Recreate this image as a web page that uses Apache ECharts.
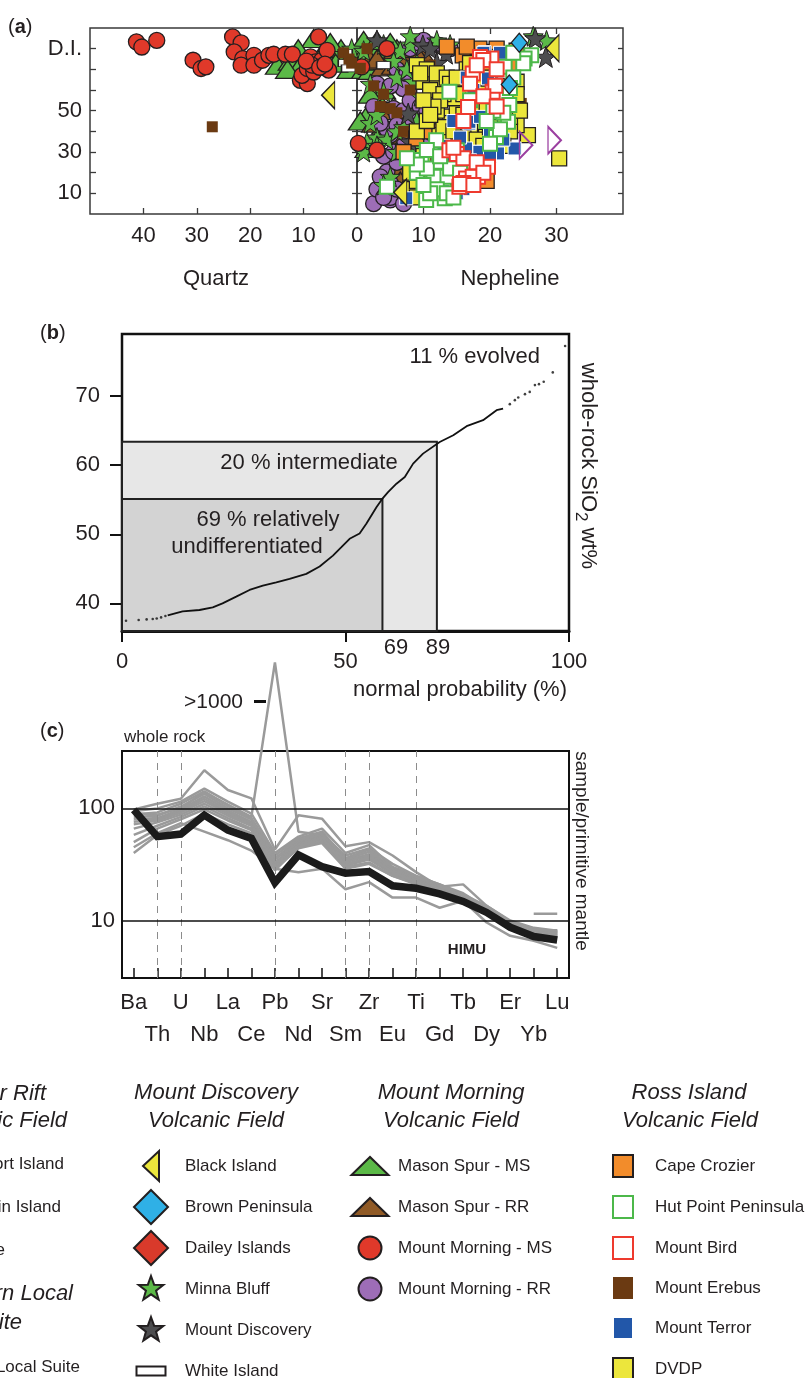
<!DOCTYPE html>
<html><head><meta charset="utf-8">
<script src="https://cdn.jsdelivr.net/npm/echarts@6/dist/echarts.min.js"></script>
<style>html,body{margin:0;padding:0;background:#fff}#c{width:809px;height:1378px}</style>
</head><body><div id="c"></div>
<script>
// ---------------- Panel (a): [normative nepheline (+) / quartz (−), D.I.] ----------------
const blackIsland = [[-5.4,57.5],[29.4,80.2],[6.5,10.5]];
const brownPeninsula = [[24.4,82.9],[22.9,62.7]];
const daileyIslands = [];
const minnaBluff = [[-1,80],[1,79],[4,82],[6.5,79],[8,82],[2,63],[4,59],[6,66],[8.5,64],[9.5,57],[10.5,68],[1.5,35],[3,37],[4.5,36],[6,40],[3,33],[7,42],[9,45],[11,70],[28.5,84],[26.5,86],[5,18],[4,14],[5.5,74],[7.5,70],[9,73],[11.5,60],[12.5,44],[10,40],[8.5,32],[2,44],[3,48],[1,30],[6,30],[8,86],[12,84],[14,82]];
const mountDiscovery = [[28.4,76],[7.7,48.6],[9.9,81.6],[13.4,77.6],[11,80],[8,35],[26.8,85],[3,84],[12,73]];
const whiteIsland = [[-2.2,78],[-2.2,73],[-1.6,70.5],[4,72],[10,60]];
const masonSpurMS = [[-14.9,72],[-12.5,74],[-10.5,72.5],[-8.1,84.9],[-6,80],[-4.5,77],[-2.5,74],[-1.5,70],[-0.7,77.8],[-3,80],[-13,70],[0.5,78],[1.5,80],[2.5,78.5],[3.5,80.5],[1,70],[2,69.5],[3,56],[1.5,47.8],[3.4,46.4],[1.5,31.7],[3,31.7],[2.5,33],[4.5,77],[6,80],[0.8,74],[4,60],[2,58],[5.5,52],[0.5,45],[4,43],[6,33],[1,84],[3,84],[5,83],[-5,83],[-4,73],[-11,80]];
const masonSpurRR = [[10,76.8],[3.9,71.2],[2,74.4],[5,75.5],[7,76],[6.9,38.2],[6.4,26.9],[7.9,23.7],[7,25],[7.4,9.2],[6,21],[3,75],[4.5,50],[6,63],[8.5,80],[2.5,44],[9,26],[8.5,18],[6.5,16],[5.5,72]];
const mountMorningMS = [[-41.3,83.3],[-40.3,80.8],[-37.5,84],[-30.7,74.4],[-29.2,70.4],[-28.3,71.2],[-23.3,85.7],[-21.7,82.8],[-23,78.4],[-21.4,75.2],[-21.7,72],[-19.3,76.8],[-19.3,72],[-17.7,74.4],[-16.5,76.8],[-15.6,77.3],[-13.4,77.3],[-12.1,77.3],[-10.6,64.7],[-9.3,63.1],[-10.3,67.1],[-9.3,70.4],[-8.7,76],[-7.8,73.6],[-7.2,85.7],[-6.6,74.4],[-5.6,79.2],[-5.3,69.6],[-8.1,68.7],[-8.4,72],[-9.5,74],[-7,71],[-6,72.5],[0.7,71.2],[4.5,80],[0.2,34.2],[3,30.9]];
const mountMorningRR = [[4.5,20.4],[5,6.8],[5.5,51],[5,38.2],[6.9,60.7],[12.4,81.6],[10.4,37.3],[4,10],[5,15],[6,48],[7,50],[8,45],[4.5,41],[6,43],[11,82],[13,81],[14,80],[3,63],[5,62],[8.5,58],[9,39],[6,25],[5,8],[7,5],[9,48],[10,46],[2.5,5],[3,12],[3.5,18],[4,28],[5.5,30],[7,33],[8,55],[9.5,52],[10.5,50],[11.5,42],[12,36],[8,80],[9,83],[10,84],[6,70],[7.5,68],[3.5,44],[2.5,52],[4,8],[6,12]];
const capeCrozier = [[17.9,79.2],[19.4,78.4],[22.9,76.8],[15.9,76.8],[18.4,80],[16.5,81],[21,80],[8.9,36.6],[8.5,17.2],[18.7,16.4],[14,35],[20,70],[23,72],[13.5,81],[24,79],[11,40],[7,30],[8,22],[10,14],[17,20],[19.5,16]];
const hutPoint = [[26.2,76.8],[25.2,75.2],[22.2,71.2],[22.4,57.5],[22.9,52.7],[22.7,44.6],[20.9,37.3],[13.9,59.2],[11.9,35.7],[9.7,26.1],[4.5,13.2],[10.4,6.8],[13.2,7.6],[13.4,18],[11.5,18],[12.4,25.3],[15,30.9],[10.5,31],[9,20],[10.5,22],[12,12],[11,10],[22,49],[21.5,41],[20,34],[25,73],[23.5,66],[23,61],[20.5,50],[19.5,45],[14,22],[12.5,28],[9,24],[10,14],[13.5,10],[14.5,8],[15.5,20],[17,55],[23.5,78],[7.5,27]];
const mountBird = [[20.2,75.2],[20.4,59.1],[19.7,22.9],[18.2,18],[17.4,68],[16.7,51.8],[13.9,30.9],[16.4,17.2],[17.4,18],[15.4,13.2],[18.5,76],[19,74.5],[15,29],[16,15],[17,63],[15.5,14.5],[18,72],[21,70],[20.8,62],[19,57],[21,52],[16,27],[18,25],[19,20],[17.5,14],[14.5,32],[16,45]];
const mountErebus = [[-27.1,42.2],[24.7,53.5],[-2.5,78],[-1.5,75],[0.5,70.5],[2.5,62],[4,58],[5,51],[3.5,52],[7,40],[11,72],[1.5,80],[-1,73],[6,49],[8,60],[20,77]];
const mountTerror = [[19.7,65.6],[16.9,43.8],[17.9,30.1],[21.2,29.3],[23.7,31.7],[16.9,44.6],[19.2,78.3],[16.4,31.7],[18.4,30.1],[7.4,7.6],[20,28],[17,26],[14,25],[16,12],[19,78],[14.5,45],[22,74],[15,10],[17.5,60],[18.5,47],[20,40],[22,36],[15.5,37],[13,33],[12,20],[13,11],[16.5,66],[21.5,78]];
const dvdp = [[30.4,26.9],[25.7,38.2],[10,64],[13.4,47.1],[15,51],[12.4,38.2],[14,44],[18.4,44.6],[19.4,39.8],[19.2,44.6],[20.5,47],[24,43],[22.4,51],[20,54.3],[18.4,58.3],[12,62],[11,60],[14.5,56],[16,48],[17,40],[21,36],[23,40],[9,40],[10.5,45],[12,50],[13,58],[16.5,70],[19,66],[21,62],[24,64],[8,12],[9,8],[22,33],[21.5,57],[9,72],[10.5,70],[12,68],[13.5,66],[14,63],[15.5,61],[16,58],[17.5,55],[18,52],[19.5,50],[21,48],[12.5,55],[11.5,52],[13,42],[14.5,40],[16,37],[18,36],[20,42],[23,47],[24.5,50],[10,55],[11,48],[15,66],[17,73],[20,76],[9.5,68],[22.5,60],[24,58],[14,30],[16,28],[19,33],[11,15],[13,14],[9,16],[8,20],[10,28]];
const franklinIsland = [[25.4,33.3],[29.7,35.7]];

const aYLabelValues = [10,30,50,80];

// ---------------- Panel (b): cumulative SiO2 vs normal probability ----------------
const bLowerDots = [[0.161,37.49],[0.275,37.59],[0.380,37.68],[0.483,37.74],[0.564,37.82],[0.666,37.97],[0.782,38.17]];
const bCurve = [[0.851,38.26],[1.44,38.84],[2.5,39.04],[3.74,39.42],[4.94,40.0],[7.12,40.97],[9.88,41.94],[13.36,42.57],[17.64,43.05],[22.64,43.54],[29.94,44.27],[36.42,45.33],[43.3,46.92],[47.8,48.13],[52.2,49.35],[57.5,50.12],[61.0,51.52],[66.1,53.93],[68.8,55.09],[71.6,56.11],[75.3,57.33],[78.7,58.29],[81.8,60.23],[85.1,61.68],[89.7,63.37],[92.6,64.34],[94.8,65.65],[96.76,66.52],[97.87,67.97],[98.28,68.21]];
const bUpperDots = [[98.63,68.84],[98.85,69.42],[98.98,69.81],[99.20,70.29],[99.33,70.62],[99.45,71.60],[99.53,71.74],[99.61,72.08],[99.73,73.44],[99.84,77.26]];
const bCutPercent = [69, 89];
const bCutSiO2 = [55.1, 63.4];

// ---------------- Panel (c): primitive-mantle normalised ----------------
const elements = ['Ba','Th','U','Nb','La','Ce','Pb','Nd','Sr','Sm','Zr','Eu','Ti','Gd','Tb','Dy','Er','Yb','Lu'];
const dashedElements = ['Th','U','Pb','Sm','Zr','Ti'];
const himu = [97,56,59,87,64,54,21.8,38.4,30.2,26.4,27.3,20.4,19.4,17.3,14.8,11.8,8.7,7.2,6.7];
const wr1 = [98,110,122,219,146,123,43,87,81,46,50,38,27,20,21,13.5,10,8.6,8.1];
const wr2 = [90,88,100,140,108,84,2000,62,58,38,44,32,25,21,17.5,13,9.7,8.3,7.8];
const wr3 = [95,100,115,150,115,90,40,56,66,40,47,30,25,21,17,13.5,9.8,8.5,8.0];
const wr4 = [88,92,110,142,105,82,38,54,62,36,43,29,24,20,16.5,13,9.6,8.3,7.9];
const wr5 = [84,86,104,135,100,80,36,52,60,35,41,28,24,20,16.5,12.8,9.5,8.2,7.7];
const wr6 = [80,82,98,128,96,76,35,50,58,34,39,28,23,19.5,16,12.5,9.3,8.0,7.6];
const wr7 = [76,80,95,122,92,74,33,49,56,33,38,27,23,19,16,12.3,9.2,7.9,7.5];
const wr8 = [72,78,92,116,90,72,32,48,55,32,36,27,22,19,15.5,12.2,9.0,7.8,7.4];
const wr9 = [66,75,88,110,86,70,31,47,53,31,35,26,22,18.5,15.5,12,8.9,7.7,7.3];
const wr10 = [58,70,84,104,82,66,30,45,51,30,33,25,21.5,18,15,11.8,8.8,7.6,7.2];
const wr11 = [50,66,80,98,78,64,29,44,49,29,32,25,21,18,15,11.5,8.6,7.5,7.1];
const wr12 = [45,60,74,62,52,42,29,27,29,19,22,16,16,13,15,9.6,7.3,6.6,5.7];
const wr13 = [40,58,70,90,72,60,28,45,55,31,37,27,22,18,16,12,9.5,8.2,8.2];
const wr14 = [null,null,null,null,null,null,null,null,null,null,null,null,null,null,null,null,null,11.5,11.5];
const wholeRock = [wr1,wr2,wr3,wr4,wr5,wr6,wr7,wr8,wr9,wr10,wr11,wr12,wr13,wr14];

// ---------------- helpers ----------------
const FONT = '"Liberation Sans", Arial, Helvetica, sans-serif';
const INK = '#231f20';
function probit(p){
  const a=[-3.969683028665376e+01,2.209460984245205e+02,-2.759285104469687e+02,1.383577518672690e+02,-3.066479806614716e+01,2.506628277459239e+00];
  const b=[-5.447609879822406e+01,1.615858368580409e+02,-1.556989798598866e+02,6.680131188771972e+01,-1.328068155288572e+01];
  const c=[-7.784894002430293e-03,-3.223964580411365e-01,-2.400758277161838e+00,-2.549732539343734e+00,4.374664141464968e+00,2.938163982698783e+00];
  const d=[7.784695709041462e-03,3.224671290700398e-01,2.445134137142996e+00,3.754408661907416e+00];
  const pl=0.02425; let q,r;
  if(p<pl){q=Math.sqrt(-2*Math.log(p));return (((((c[0]*q+c[1])*q+c[2])*q+c[3])*q+c[4])*q+c[5])/((((d[0]*q+d[1])*q+d[2])*q+d[3])*q+1);}
  if(p<=1-pl){q=p-0.5;r=q*q;return (((((a[0]*r+a[1])*r+a[2])*r+a[3])*r+a[4])*r+a[5])*q/(((((b[0]*r+b[1])*r+b[2])*r+b[3])*r+b[4])*r+1);}
  q=Math.sqrt(-2*Math.log(1-p));return -(((((c[0]*q+c[1])*q+c[2])*q+c[3])*q+c[4])*q+c[5])/((((d[0]*q+d[1])*q+d[2])*q+d[3])*q+1);
}
function normCdf(z){
  const t=1/(1+0.2316419*Math.abs(z));
  const y=0.3989423*Math.exp(-z*z/2)*t*(0.3193815+t*(-0.3565638+t*(1.781478+t*(-1.821256+t*1.330274))));
  return z>0?1-y:y;
}
const toProb = arr => arr.map(([p,s]) => [probit(p/100), s]);

// ---------------- symbols ----------------
const STAR = 'path://M19,5L22.12,13.71L31.36,13.98L24.04,19.64L26.64,28.52L19,23.3L11.36,28.52L13.96,19.64L6.64,13.98L15.88,13.71Z';
const LEFT_TRI = 'path://M0,10L10,0L10,20Z';
const RIGHT_TRI = 'path://M0,0L10,10L0,20Z';
const BOX = 'M0,0M38,36';
const ICON = {
  leftTri: 'path://'+BOX+'M11,18L27,3L27,33Z',
  diamond: 'path://'+BOX+'M19,1L36,18L19,35L2,18Z',
  star: 'path://'+BOX+'M19,5L22.12,13.71L31.36,13.98L24.04,19.64L26.64,28.52L19,23.3L11.36,28.52L13.96,19.64L6.64,13.98L15.88,13.71Z',
  flatRect: 'path://'+BOX+'M4.5,13.5H33.5V22.5H4.5Z',
  tri: 'path://'+BOX+'M0.5,27L19,9L37.5,27Z',
  circle: 'path://'+BOX+'M7.5,18A11.5,11.5 0 1 0 30.5,18A11.5,11.5 0 1 0 7.5,18Z',
  square: 'path://'+BOX+'M9,7H29V29H9Z'
};

const groups = [
  {name:'Mason Spur - MS', pts:masonSpurMS, symbol:'triangle', size:[24,18], color:'#5bb947', border:INK, bw:1.3, icon:ICON.tri},
  {name:'Mason Spur - RR', pts:masonSpurRR, symbol:'triangle', size:[24,18], color:'#905a26', border:INK, bw:1.3, icon:ICON.tri},
  {name:'Mount Morning - RR', pts:mountMorningRR, symbol:'circle', size:16, color:'#9d6db6', border:INK, bw:1.3, icon:ICON.circle},
  {name:'Minna Bluff', pts:minnaBluff, symbol:STAR, size:20, color:'#5bb947', border:INK, bw:1, icon:ICON.star},
  {name:'Mount Discovery', pts:mountDiscovery, symbol:STAR, size:21, color:'#4d4d4f', border:INK, bw:1, icon:ICON.star},
  {name:'Mount Morning - MS', pts:mountMorningMS, symbol:'circle', size:16, color:'#e0392a', border:INK, bw:1.3, icon:ICON.circle},
  {name:'White Island', pts:whiteIsland, symbol:'rect', size:[14,7], color:'#ffffff', border:INK, bw:1.2, icon:ICON.flatRect},
  {name:'Mount Erebus', pts:mountErebus, symbol:'rect', size:11, color:'#6b3a12', border:'#6b3a12', bw:0, icon:ICON.square},
  {name:'Cape Crozier', pts:capeCrozier, symbol:'rect', size:15, color:'#f28c2b', border:INK, bw:1.3, icon:ICON.square},
  {name:'DVDP', pts:dvdp, symbol:'rect', size:15, color:'#ece63c', border:INK, bw:1.3, icon:ICON.square},
  {name:'Mount Terror', pts:mountTerror, symbol:'rect', size:13, color:'#2257a9', border:'#ffffff', bw:1, icon:ICON.square},
  {name:'Hut Point Peninsula', pts:hutPoint, symbol:'rect', size:14, color:'#ffffff', border:'#4cb84a', bw:2, icon:ICON.square},
  {name:'Mount Bird', pts:mountBird, symbol:'rect', size:14, color:'#ffffff', border:'#ee3a2e', bw:2, icon:ICON.square},
  {name:'Black Island', pts:blackIsland, symbol:LEFT_TRI, size:[13,27], color:'#ece63c', border:INK, bw:1.3, icon:ICON.leftTri},
  {name:'Brown Peninsula', pts:brownPeninsula, symbol:'diamond', size:[16,19], color:'#2fb0e6', border:INK, bw:1.3, icon:ICON.diamond},
  {name:'Dailey Islands', pts:daileyIslands, symbol:'diamond', size:[16,19], color:'#d93a2b', border:INK, bw:1.3, icon:ICON.diamond},
  {name:'Franklin Island', pts:franklinIsland, symbol:RIGHT_TRI, size:[13,27], color:'rgba(255,255,255,0)', border:'#9b3fa0', bw:1.8, icon:null}
];

const series = [];
groups.forEach(g => {
  const q = g.pts.filter(p => p[0] < 0).map(p => [-p[0], p[1]]);
  const n = g.pts.filter(p => p[0] >= 0);
  const base = {type:'scatter', name:g.name, symbol:g.symbol, symbolSize:g.size, symbolKeepAspect:false,
    itemStyle:{color:g.color, borderColor:g.border, borderWidth:g.bw, opacity:1}, emphasis:{disabled:true}, silent:true};
  series.push(Object.assign({}, base, {xAxisIndex:0, yAxisIndex:0, data:q}));
  series.push(Object.assign({}, base, {xAxisIndex:1, yAxisIndex:1, data:n}));
});
const iconOf = {}; groups.forEach(g => iconOf[g.name] = g.icon);

// panel b
const z69 = probit(bCutPercent[0]/100), z89 = probit(bCutPercent[1]/100);
const bXMin = -3, bXMax = 3, bYMin = 36, bYMax = 79;
series.push({type:'line', name:'SiO2 curve', xAxisIndex:4, yAxisIndex:4, data:toProb(bCurve), showSymbol:false, symbol:'none',
  lineStyle:{color:'#111', width:1.8}, silent:true, z:5,
  markArea:{silent:true, data:[
    [{coord:[bXMin,bYMin], itemStyle:{color:'#e7e7e7', borderColor:'#222', borderWidth:2}}, {coord:[z89,bCutSiO2[1]]}],
    [{coord:[bXMin,bYMin], itemStyle:{color:'#d3d3d3', borderColor:'#222', borderWidth:2}}, {coord:[z69,bCutSiO2[0]]}]
  ]}});
series.push({type:'scatter', name:'SiO2 dots', xAxisIndex:4, yAxisIndex:4, data:toProb(bLowerDots.concat(bUpperDots)), symbolSize:2.6,
  itemStyle:{color:'#111'}, silent:true, z:5});

// panel c
wholeRock.forEach((arr, i) => {
  const s = {type:'line', name:'whole rock '+(i+1), xAxisIndex:5, yAxisIndex:5, data:arr, symbol:'none', showSymbol:false,
    lineStyle:{color:'#9a9a9a', width:2.5}, clip:false, silent:true, connectNulls:false, z:3};
  if (i === 0) {
    s.markLine = {silent:true, symbol:'none', label:{show:false}, animation:false, data:
      dashedElements.map(e => ({xAxis:e, lineStyle:{color:'#8c8c8c', width:1, type:[7,6]}}))
      .concat([10,100].map(v => ({yAxis:v, lineStyle:{color:'#111', width:1.6, type:'solid'}})))};
  }
  series.push(s);
});
series.push({type:'line', name:'HIMU', xAxisIndex:5, yAxisIndex:5, data:himu, symbol:'none', showSymbol:false,
  lineStyle:{color:'#1b1b1b', width:7.5, join:'miter'}, silent:true, z:6});

const axisFont = {fontFamily:FONT, fontSize:22, color:INK};
const hidden = {show:false};
const noLine = {show:false, onZero:false};
const option = {
  animation:false,
  backgroundColor:'#fff',
  textStyle:{fontFamily:FONT},
  grid:[
    {left:90, top:28, width:267, height:186, show:true, borderColor:'#3a3a3a', borderWidth:1.5, backgroundColor:'transparent'},
    {left:357, top:28, width:266, height:186, show:true, borderColor:'#3a3a3a', borderWidth:1.5, backgroundColor:'transparent'},
    {left:122, top:334, width:447, height:297, show:true, borderColor:'#111', borderWidth:2.5, backgroundColor:'transparent'},
    {left:122, top:751, width:447, height:227, show:true, borderColor:'#111', borderWidth:2, backgroundColor:'transparent'}
  ],
  xAxis:[
    {gridIndex:0, type:'value', min:0, max:50, inverse:true, position:'bottom', axisLine:noLine, splitLine:hidden,
      axisTick:{inside:true, length:6, customValues:[10,20,30,40], lineStyle:{color:'#3a3a3a', width:1.3}},
      axisLabel:Object.assign({customValues:[10,20,30,40], margin:11}, axisFont)},
    {gridIndex:1, type:'value', min:0, max:40, position:'bottom', axisLine:noLine, splitLine:hidden,
      axisTick:{inside:true, length:6, customValues:[10,20,30], lineStyle:{color:'#3a3a3a', width:1.3}},
      axisLabel:Object.assign({customValues:[0,10,20,30], margin:11}, axisFont)},
    {gridIndex:1, type:'value', min:0, max:40, position:'top', axisLine:noLine, splitLine:hidden, axisLabel:hidden,
      axisTick:{inside:true, length:6, customValues:[10,20,30], lineStyle:{color:'#3a3a3a', width:1.3}}},
    {gridIndex:0, type:'value', min:0, max:50, inverse:true, position:'top', axisLine:noLine, splitLine:hidden, axisLabel:hidden, axisTick:hidden},
    {gridIndex:2, type:'value', min:bXMin, max:bXMax, position:'bottom', splitLine:hidden,
      axisLine:{show:true, onZero:false, lineStyle:{color:'#111', width:3}},
      axisTick:{show:true, inside:false, length:11, customValues:[-3,0,3], lineStyle:{color:'#111', width:2}},
      axisLabel:Object.assign({customValues:[-3,0,3], margin:20, formatter:v => String(Math.round(normCdf(v)*100))}, axisFont)},
    {gridIndex:3, type:'category', data:elements, boundaryGap:true, splitLine:hidden,
      axisLine:{show:true, onZero:false, lineStyle:{color:'#111', width:2}},
      axisTick:{show:true, inside:true, length:10, alignWithLabel:true, interval:0, lineStyle:{color:'#111', width:1.5}},
      axisLabel:Object.assign({interval:0, margin:9, lineHeight:32, formatter:(v,i) => (i % 2 ? '\n' + v : v)}, axisFont)}
  ],
  yAxis:[
    {gridIndex:0, type:'value', min:0, max:90, position:'left', axisLine:noLine, splitLine:hidden,
      axisTick:{inside:true, length:6, customValues:[10,20,30,40,50,60,70,80], lineStyle:{color:'#3a3a3a', width:1.3}},
      axisLabel:Object.assign({customValues:aYLabelValues, margin:8, formatter:v => (v === 80 ? 'D.I.' : String(v))}, axisFont)},
    {gridIndex:1, type:'value', min:0, max:90, position:'left', axisLine:noLine, splitLine:hidden, axisLabel:hidden,
      axisTick:{inside:true, length:5, customValues:[10,20,30,40,50,60,70,80], lineStyle:{color:'#3a3a3a', width:1.3}}},
    {gridIndex:0, type:'value', min:0, max:90, position:'right', axisLine:noLine, splitLine:hidden, axisLabel:hidden,
      axisTick:{inside:true, length:5, customValues:[10,20,30,40,50,60,70,80], lineStyle:{color:'#3a3a3a', width:1.3}}},
    {gridIndex:1, type:'value', min:0, max:90, position:'right', axisLine:noLine, splitLine:hidden, axisLabel:hidden,
      axisTick:{inside:true, length:5, customValues:[10,20,30,40,50,60,70,80], lineStyle:{color:'#3a3a3a', width:1.3}}},
    {gridIndex:2, type:'value', min:bYMin, max:bYMax, position:'left', axisLine:noLine, splitLine:hidden,
      axisTick:{show:true, inside:false, length:12, customValues:[40,50,60,70], lineStyle:{color:'#111', width:2}},
      axisLabel:Object.assign({customValues:[40,50,60,70], margin:22}, axisFont)},
    {gridIndex:3, type:'log', min:3.07, max:325, position:'left', axisLine:noLine, splitLine:hidden, axisTick:hidden,
      axisLabel:Object.assign({margin:7, formatter:v => (Math.abs(v-10) < 1e-6 || Math.abs(v-100) < 1e-6) ? String(Math.round(v)) : ''}, axisFont)}
  ],
  legend:[
    {data:['Black Island','Brown Peninsula','Dailey Islands','Minna Bluff','Mount Discovery','White Island'], left:131, top:1147},
    {data:['Mason Spur - MS','Mason Spur - RR','Mount Morning - MS','Mount Morning - RR'], left:350, top:1147},
    {data:['Cape Crozier','Hut Point Peninsula','Mount Bird','Mount Erebus','Mount Terror','DVDP'], left:603, top:1147}
  ].map((l, i) => ({
    orient:'vertical', left:l.left, top:l.top, height:280, width:210, padding:0, itemWidth:38, itemHeight:36, itemGap:3,
    selectedMode:false, symbolKeepAspect:true,
    data:l.data.map(n => ({name:n, icon:iconOf[n]})),
    textStyle:{fontFamily:FONT, fontSize:17, color:INK, padding:[0,0,0,[10,4,8][i]]}
  })),
  graphic:[
    {type:'text', x:8, y:27, style:{text:'({b|a})', fontFamily:FONT, fontSize:20, fill:INK, verticalAlign:'middle', rich:{b:{fontWeight:'bold', fontSize:20, fontFamily:FONT}}}},
    {type:'text', x:40, y:333, style:{text:'({b|b})', fontFamily:FONT, fontSize:20, fill:INK, verticalAlign:'middle', rich:{b:{fontWeight:'bold', fontSize:20, fontFamily:FONT}}}},
    {type:'text', x:40, y:731, style:{text:'({b|c})', fontFamily:FONT, fontSize:20, fill:INK, verticalAlign:'middle', rich:{b:{fontWeight:'bold', fontSize:20, fontFamily:FONT}}}},
    {type:'text', x:216, y:279, style:{text:'Quartz', fontFamily:FONT, fontSize:22, fill:INK, align:'center', verticalAlign:'middle'}},
    {type:'text', x:510, y:279, style:{text:'Nepheline', fontFamily:FONT, fontSize:22, fill:INK, align:'center', verticalAlign:'middle'}},
    {type:'text', x:540, y:357, z:20, style:{text:'11 % evolved', fontFamily:FONT, fontSize:22, fill:INK, align:'right', verticalAlign:'middle'}},
    {type:'text', x:309, y:463, z:20, style:{text:'20 % intermediate', fontFamily:FONT, fontSize:22, fill:INK, align:'center', verticalAlign:'middle'}},
    {type:'text', x:268, y:520, z:20, style:{text:'69 % relatively', fontFamily:FONT, fontSize:22, fill:INK, align:'center', verticalAlign:'middle'}},
    {type:'text', x:247, y:547, z:20, style:{text:'undifferentiated', fontFamily:FONT, fontSize:22, fill:INK, align:'center', verticalAlign:'middle'}},
    {type:'text', x:396, y:648, style:{text:'69', fontFamily:FONT, fontSize:22, fill:INK, align:'center', verticalAlign:'middle'}},
    {type:'text', x:438, y:648, style:{text:'89', fontFamily:FONT, fontSize:22, fill:INK, align:'center', verticalAlign:'middle'}},
    {type:'text', x:567, y:690, style:{text:'normal probability (%)', fontFamily:FONT, fontSize:22, fill:INK, align:'right', verticalAlign:'middle'}},
    {type:'text', x:588, y:466, rotation:-Math.PI/2, style:{text:'whole-rock SiO{s|2} wt%', fontFamily:FONT, fontSize:22, fill:INK, align:'center', verticalAlign:'middle',
      rich:{s:{fontFamily:FONT, fontSize:17, fill:INK, padding:[14,0,0,0]}}}},
    {type:'text', x:124, y:737, style:{text:'whole rock', fontFamily:FONT, fontSize:17, fill:INK, align:'left', verticalAlign:'middle'}},
    {type:'text', x:243, y:702, style:{text:'>1000', fontFamily:FONT, fontSize:21, fill:INK, align:'right', verticalAlign:'middle'}},
    {type:'line', shape:{x1:254, y1:701.5, x2:266, y2:701.5}, style:{stroke:'#111', lineWidth:3}},
    {type:'text', x:467, y:950, z:20, style:{text:'HIMU', fontFamily:FONT, fontSize:15, fontWeight:'bold', fill:INK, align:'center', verticalAlign:'middle'}},
    {type:'text', x:581, y:851, rotation:-Math.PI/2, style:{text:'sample/primitive mantle', fontFamily:FONT, fontSize:19, fill:INK, align:'center', verticalAlign:'middle'}},
    {type:'text', x:46, y:1094, style:{text:'Terror Rift', fontFamily:FONT, fontSize:22, fontStyle:'italic', fill:INK, align:'right', verticalAlign:'middle'}},
    {type:'text', x:67, y:1121, style:{text:'Volcanic Field', fontFamily:FONT, fontSize:22, fontStyle:'italic', fill:INK, align:'right', verticalAlign:'middle'}},
    {type:'text', x:73, y:1294, style:{text:'Southern Local', fontFamily:FONT, fontSize:22, fontStyle:'italic', fill:INK, align:'right', verticalAlign:'middle'}},
    {type:'text', x:22, y:1323, style:{text:'Suite', fontFamily:FONT, fontSize:22, fontStyle:'italic', fill:INK, align:'right', verticalAlign:'middle'}},
    {type:'text', x:64, y:1164, style:{text:'Beaufort Island', fontFamily:FONT, fontSize:17, fill:INK, align:'right', verticalAlign:'middle'}},
    {type:'text', x:61, y:1207, style:{text:'Franklin Island', fontFamily:FONT, fontSize:17, fill:INK, align:'right', verticalAlign:'middle'}},
    {type:'text', x:5, y:1250, style:{text:'Mount Melbourne', fontFamily:FONT, fontSize:17, fill:INK, align:'right', verticalAlign:'middle'}},
    {type:'text', x:80, y:1367, style:{text:'Southern Local Suite', fontFamily:FONT, fontSize:17, fill:INK, align:'right', verticalAlign:'middle'}},
    {type:'text', x:216, y:1093, style:{text:'Mount Discovery', fontFamily:FONT, fontSize:22, fontStyle:'italic', fill:INK, align:'center', verticalAlign:'middle'}},
    {type:'text', x:216, y:1121, style:{text:'Volcanic Field', fontFamily:FONT, fontSize:22, fontStyle:'italic', fill:INK, align:'center', verticalAlign:'middle'}},
    {type:'text', x:451, y:1093, style:{text:'Mount Morning', fontFamily:FONT, fontSize:22, fontStyle:'italic', fill:INK, align:'center', verticalAlign:'middle'}},
    {type:'text', x:451, y:1121, style:{text:'Volcanic Field', fontFamily:FONT, fontSize:22, fontStyle:'italic', fill:INK, align:'center', verticalAlign:'middle'}},
    {type:'text', x:689, y:1093, style:{text:'Ross Island', fontFamily:FONT, fontSize:22, fontStyle:'italic', fill:INK, align:'center', verticalAlign:'middle'}},
    {type:'text', x:690, y:1121, style:{text:'Volcanic Field', fontFamily:FONT, fontSize:22, fontStyle:'italic', fill:INK, align:'center', verticalAlign:'middle'}}
  ],
  series:series
};
const chart = echarts.init(document.getElementById('c'), null, {renderer:'canvas', width:809, height:1378});
chart.setOption(option);
</script></body></html>
